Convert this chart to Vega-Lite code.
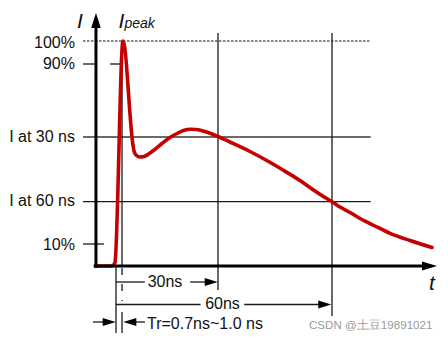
{
  "$schema": "https://vega.github.io/schema/vega-lite/v6.json",
  "width": 448,
  "height": 341,
  "padding": 0,
  "autosize": {"type": "fit", "contains": "padding"},
  "background": "white",
  "config": {"view": {"stroke": null}, "font": "Liberation Sans"},
  "datasets": {
    "axes": [
      {"t": -5.56, "i": -0.8, "t2": -5.56, "i2": 106.0},
      {"t": -6.2, "i": 0, "t2": 85.5, "i2": 0}
    ],
    "gray": [
      {"t": -9.17, "i": 57.33, "t2": 70.75, "i2": 57.33},
      {"t": -9.17, "i": 9.78, "t2": -3.33, "i2": 9.78}
    ],
    "thin": [
      {"t": 1.67, "i": 100, "t2": 1.67, "i2": 0},
      {"t": 28.33, "i": 103.56, "t2": 28.33, "i2": -10.67},
      {"t": 60.0, "i": 103.56, "t2": 60.0, "i2": -22.22},
      {"t": 0, "i": 0, "t2": 0, "i2": -29.78},
      {"t": 1.67, "i": -20.4, "t2": 1.67, "i2": -29.78},
      {"t": -9.17, "i": 28.58, "t2": 70.75, "i2": 28.58},
      {"t": 0, "i": -7.11, "t2": 8.0, "i2": -7.11},
      {"t": 20.6, "i": -7.11, "t2": 27.0, "i2": -7.11},
      {"t": 0, "i": -17.1, "t2": 23.5, "i2": -17.1},
      {"t": 35.6, "i": -17.1, "t2": 58.5, "i2": -17.1},
      {"t": -6.39, "i": -24.89, "t2": -1, "i2": -24.89},
      {"t": 3, "i": -24.89, "t2": 8.06, "i2": -24.89}
    ],
    "dotted": [{"t": -9.17, "i": 100, "t2": 70.75, "i2": 100}],
    "dash90": [{"t": -9.17, "i": 89.78, "t2": 1.67, "i2": 89.78}],
    "dashV": [{"t": 1.67, "i": -0.9, "t2": 1.67, "i2": -15.5}],
    "curve": [
      {"t": -5.56, "i": 0},
      {"t": -1.39, "i": 0},
      {"t": -0.69, "i": 0.44},
      {"t": -0.28, "i": 1.56},
      {"t": 1.94, "i": 100},
      {"t": 4.64, "i": 54.67},
      {"t": 5.0, "i": 51.11},
      {"t": 5.69, "i": 49.11},
      {"t": 6.67, "i": 48.44},
      {"t": 7.78, "i": 48.67},
      {"t": 9.44, "i": 50.22},
      {"t": 11.11, "i": 52.22},
      {"t": 12.78, "i": 54.44},
      {"t": 15.0, "i": 57.11},
      {"t": 17.22, "i": 59.11},
      {"t": 19.17, "i": 60.44},
      {"t": 20.56, "i": 60.76},
      {"t": 22.22, "i": 60.67},
      {"t": 24.72, "i": 59.78},
      {"t": 26.67, "i": 58.67},
      {"t": 28.33, "i": 57.56},
      {"t": 31.67, "i": 55.11},
      {"t": 37.22, "i": 50.89},
      {"t": 41.39, "i": 47.33},
      {"t": 46.39, "i": 42.67},
      {"t": 51.11, "i": 38.0},
      {"t": 55.28, "i": 33.33},
      {"t": 58.06, "i": 30.44},
      {"t": 60.0, "i": 28.58},
      {"t": 62.22, "i": 26.22},
      {"t": 65.0, "i": 23.78},
      {"t": 66.94, "i": 21.91},
      {"t": 71.94, "i": 17.78},
      {"t": 76.11, "i": 14.53},
      {"t": 81.67, "i": 11.33},
      {"t": 87.78, "i": 8.22}
    ],
    "arrowRight": [
      {"t": 28.25, "i": -7.11},
      {"t": 59.8, "i": -17.1},
      {"t": -0.08, "i": -24.89}
    ],
    "arrowLeft": [{"t": 2.03, "i": -24.89}],
    "axisArrowRight": [{"t": 89.17, "i": 0}],
    "axisArrowUp": [{"t": -5.56, "i": 112.4}],
    "leftLabels": [
      {"t": -11.39, "i": 99.1, "label": "100%"},
      {"t": -11.39, "i": 89.78, "label": "90%"},
      {"t": -11.39, "i": 57.33, "label": "I at 30 ns"},
      {"t": -11.39, "i": 28.67, "label": "I at 60 ns"},
      {"t": -11.39, "i": 9.33, "label": "10%"}
    ],
    "centerLabels": [
      {"t": 13.61, "i": -7.11, "label": "30ns"},
      {"t": 29.58, "i": -17.0, "label": "60ns"}
    ],
    "trLabel": [{"t": 8.61, "i": -25.78, "label": "Tr=0.7ns~1.0 ns"}],
    "bigItalic": [
      {"t": -10.0, "i": 105.78, "label": "I"},
      {"t": 1.5, "i": 105.78, "label": "I"},
      {"t": 87.78, "i": -10.67, "label": "t"}
    ],
    "sub": [{"t": 2.36, "i": 105.56, "label": "peak"}],
    "mark": [{"t": 53.61, "i": -26.67, "label": "CSDN @土豆19891021"}]
  },
  "data": {"name": "axes"},
  "encoding": {
    "x": {"field": "t", "type": "quantitative", "scale": {"domain": [-32.222, 92.222], "nice": false, "zero": false}, "axis": null},
    "y": {"field": "i", "type": "quantitative", "scale": {"domain": [-33.333, 118.222], "nice": false, "zero": false}, "axis": null}
  },
  "layer": [
    {"data": {"name": "gray"}, "mark": {"type": "rule", "color": "#6b6b6b", "strokeWidth": 2}, "encoding": {"x2": {"field": "t2"}, "y2": {"field": "i2"}}},
    {"data": {"name": "dash90"}, "mark": {"type": "rule", "color": "#6b6b6b", "strokeWidth": 2, "strokeDash": [14, 13]}, "encoding": {"x2": {"field": "t2"}, "y2": {"field": "i2"}}},
    {"data": {"name": "dotted"}, "mark": {"type": "rule", "color": "#111", "strokeWidth": 1.2, "strokeDash": [2.5, 1.5]}, "encoding": {"x2": {"field": "t2"}, "y2": {"field": "i2"}}},
    {"data": {"name": "thin"}, "mark": {"type": "rule", "color": "#1a1a1a", "strokeWidth": 1.3}, "encoding": {"x2": {"field": "t2"}, "y2": {"field": "i2"}}},
    {"data": {"name": "dashV"}, "mark": {"type": "rule", "color": "#1a1a1a", "strokeWidth": 1.3, "strokeDash": [7, 9]}, "encoding": {"x2": {"field": "t2"}, "y2": {"field": "i2"}}},
    {"data": {"name": "curve"}, "mark": {"type": "line", "color": "#c40000", "strokeWidth": 3.6, "interpolate": "monotone", "strokeJoin": "round", "strokeCap": "round"}, "encoding": {"order": {"field": "t", "type": "quantitative"}}},
    {"data": {"name": "axes"}, "mark": {"type": "rule", "color": "#000", "strokeWidth": 3}, "encoding": {"x2": {"field": "t2"}, "y2": {"field": "i2"}}},
    {"data": {"name": "arrowRight"}, "mark": {"type": "point", "shape": "M0,0L-1,-0.3L-1,0.3Z", "size": 676, "filled": true, "color": "#000", "opacity": 1, "strokeWidth": 0}},
    {"data": {"name": "arrowLeft"}, "mark": {"type": "point", "shape": "M0,0L1,-0.3L1,0.3Z", "size": 676, "filled": true, "color": "#000", "opacity": 1, "strokeWidth": 0}},
    {"data": {"name": "axisArrowRight"}, "mark": {"type": "point", "shape": "M0,0L-1,-0.3L-1,0.3Z", "size": 900, "filled": true, "color": "#000", "opacity": 1, "strokeWidth": 0}},
    {"data": {"name": "axisArrowUp"}, "mark": {"type": "point", "shape": "M0,0L-0.32,1L0.32,1Z", "size": 900, "filled": true, "color": "#000", "opacity": 1, "strokeWidth": 0}},
    {"data": {"name": "leftLabels"}, "mark": {"type": "text", "align": "right", "baseline": "middle", "fontSize": 16, "color": "#111"}, "encoding": {"text": {"field": "label"}}},
    {"data": {"name": "centerLabels"}, "mark": {"type": "text", "align": "center", "baseline": "middle", "fontSize": 16, "color": "#111"}, "encoding": {"text": {"field": "label"}}},
    {"data": {"name": "trLabel"}, "mark": {"type": "text", "align": "left", "baseline": "middle", "fontSize": 16, "color": "#111"}, "encoding": {"text": {"field": "label"}}},
    {"data": {"name": "bigItalic"}, "mark": {"type": "text", "align": "center", "baseline": "alphabetic", "fontSize": 21, "fontStyle": "italic", "color": "#111"}, "encoding": {"text": {"field": "label"}}},
    {"data": {"name": "sub"}, "mark": {"type": "text", "align": "left", "baseline": "alphabetic", "fontSize": 14, "fontStyle": "italic", "color": "#111"}, "encoding": {"text": {"field": "label"}}},
    {"data": {"name": "mark"}, "mark": {"type": "text", "align": "left", "baseline": "middle", "fontSize": 11.6, "color": "#9a9a9a"}, "encoding": {"text": {"field": "label"}}}
  ]
}
